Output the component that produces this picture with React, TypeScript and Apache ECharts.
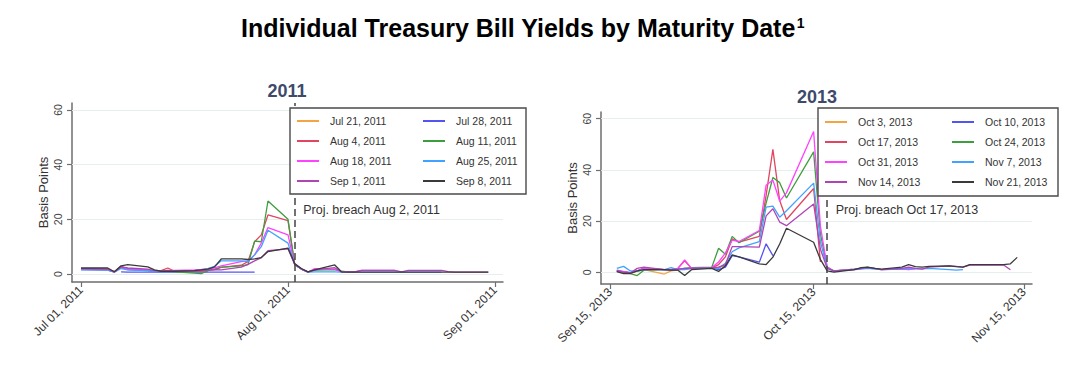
import React, { useEffect, useRef } from 'react';
import * as echarts from 'echarts';

const FONT = "'Liberation Sans', Arial, Helvetica, sans-serif";
const DAY = 86400000;
const MONTHS = ['Jan', 'Feb', 'Mar', 'Apr', 'May', 'Jun', 'Jul', 'Aug', 'Sep', 'Oct', 'Nov', 'Dec'];

// ---------- 2011 panel ----------
const dates2011 = [
  '2011-07-01', '2011-07-05', '2011-07-06', '2011-07-07', '2011-07-08',
  '2011-07-11', '2011-07-12', '2011-07-13', '2011-07-14', '2011-07-15',
  '2011-07-18', '2011-07-19', '2011-07-20', '2011-07-21', '2011-07-22',
  '2011-07-25', '2011-07-26', '2011-07-27', '2011-07-28', '2011-07-29',
  '2011-08-01', '2011-08-02', '2011-08-03', '2011-08-04', '2011-08-05',
  '2011-08-08', '2011-08-09', '2011-08-10', '2011-08-11', '2011-08-12',
  '2011-08-15', '2011-08-16', '2011-08-17', '2011-08-18', '2011-08-19',
  '2011-08-22', '2011-08-23', '2011-08-24', '2011-08-25', '2011-08-26',
  '2011-08-29', '2011-08-30', '2011-08-31',
];
const names2011 = ['Jul 21, 2011', 'Jul 28, 2011', 'Aug 4, 2011', 'Aug 11, 2011', 'Aug 18, 2011', 'Aug 25, 2011', 'Sep 1, 2011', 'Sep 8, 2011'];
const jul21_2011 = [1.8, 1.6, 0.7, 2.5, 1.8, 1.3, 1.0, 0.9, 1.3, 1.0, 0.9, 0.8, 0.9];
const jul28_2011 = [null, null, null, 0.8, 0.7, 0.7, 0.7, 0.7, 0.7, 0.7, 0.7, 0.7, 0.7, 0.7, 0.7, 0.7, 0.7, 0.7];
const aug4_2011 = [2.0, 1.7, 0.8, 2.8, 2.0, 1.5, 1.0, 1.2, 2.2, 1.0, 1.0, 1.1, 1.3, 1.6, 2.4, 3.2, 4.5, 11.8, 14.3, 21.6, 19.5, 3.5, 1.8];
const aug11_2011 = [1.8, 1.5, 0.8, 2.5, 1.6, 1.2, 1.0, 0.9, 0.9, 0.8, 0.3, 0.1, 1.2, 1.8, 2.5, 3.0, 3.4, 12.0, 11.8, 26.7, 20.0, 3.5, 1.8, 0.7, 1.4, 1.6, 1.0, 0.8];
const aug18_2011 = [1.6, 1.4, 0.7, 2.3, 1.8, 1.5, 1.0, 1.0, 1.3, 1.3, 1.5, 1.7, 2.0, 2.2, 3.0, 4.5, 4.8, 7.0, 11.3, 17.0, 14.3, 3.5, 1.8, 0.7, 2.0, 1.8, 0.8, 0.8, 0.8, 1.3, 1.3, 1.3, 1.3];
const aug25_2011 = [1.5, 1.4, 0.7, 2.0, 1.5, 1.2, 1.0, 0.8, 0.9, 1.0, 1.2, 1.5, 2.0, 2.8, 4.8, 4.8, 4.5, 7.0, 10.0, 16.0, 11.3, 3.5, 1.8, 0.7, 0.8, 0.8, 0.7, 0.7, 0.7, 0.7, 0.7, 0.7, 0.7, 0.7, 0.7, 0.7, 0.7, 0.7];
const sep1_2011 = [2.0, 1.8, 0.8, 2.6, 2.2, 1.8, 1.2, 1.0, 1.0, 1.0, 1.0, 1.2, 1.4, 1.6, 1.5, 2.5, 3.5, 4.8, 6.0, 8.5, 9.2, 3.5, 1.8, 0.8, 1.5, 2.3, 0.8, 0.8, 0.8, 1.3, 1.3, 1.3, 1.3, 0.8, 1.3, 1.3, 1.3, 1.3, 0.9, 0.7, 0.7, 0.7, 0.7];
const sep8_2011 = [2.2, 2.2, 0.8, 3.0, 3.4, 2.6, 1.5, 1.0, 1.0, 1.0, 1.2, 1.5, 1.8, 2.6, 5.5, 5.5, 5.3, 5.5, 6.0, 8.2, 9.5, 3.8, 2.0, 0.8, 1.5, 3.3, 0.8, 0.7, 0.7, 0.7, 0.7, 0.7, 0.7, 0.7, 0.7, 0.7, 0.7, 0.7, 0.7, 0.7, 0.7, 0.7, 0.7];
const values2011 = [jul21_2011, jul28_2011, aug4_2011, aug11_2011, aug18_2011, aug25_2011, sep1_2011, sep8_2011];
const xTicks2011 = ['2011-07-01', '2011-08-01', '2011-09-01'];
const breach2011 = '2011-08-02';
const breachLabel2011 = 'Proj. breach Aug 2, 2011';

// ---------- 2013 panel ----------
const dates2013 = [
  '2013-09-16', '2013-09-17', '2013-09-18', '2013-09-19', '2013-09-20',
  '2013-09-23', '2013-09-24', '2013-09-25', '2013-09-26', '2013-09-27', '2013-09-30',
  '2013-10-01', '2013-10-02', '2013-10-03', '2013-10-04', '2013-10-07',
  '2013-10-08', '2013-10-09', '2013-10-10', '2013-10-11', '2013-10-15',
  '2013-10-16', '2013-10-17', '2013-10-18', '2013-10-21', '2013-10-22',
  '2013-10-23', '2013-10-24', '2013-10-25', '2013-10-28', '2013-10-29',
  '2013-10-30', '2013-10-31', '2013-11-01', '2013-11-04', '2013-11-05',
  '2013-11-06', '2013-11-07', '2013-11-08', '2013-11-12', '2013-11-13', '2013-11-14',
];
const names2013 = ['Oct 3, 2013', 'Oct 10, 2013', 'Oct 17, 2013', 'Oct 24, 2013', 'Oct 31, 2013', 'Nov 7, 2013', 'Nov 14, 2013', 'Nov 21, 2013'];
const oct3_2013 = [0.5, 0.0, -0.3, 0.3, 1.0, -0.7, 0.5, 0.8, 1.5, 1.5, 1.8, 2.0, 2.5];
const oct10_2013 = [0.8, 0.2, -0.2, 0.5, 1.5, 1.0, 0.8, 1.0, 1.2, 1.5, 1.8, 1.0, 2.0, 6.5, 6.0, 3.9, 11.1, 6.5];
const oct17_2013 = [0.5, 0.0, -0.3, 0.5, 1.5, 1.0, 1.0, 1.5, 4.5, 1.5, 1.8, 3.0, 6.0, 13.0, 11.8, 14.0, 30.0, 48.0, 28.0, 20.6, 32.7, 4.0];
const oct24_2013 = [0.3, 0.0, -0.5, -1.3, 0.8, 1.0, 1.0, 1.2, 1.5, 1.8, 2.0, 9.4, 7.0, 14.0, 11.5, 16.0, 27.0, 37.0, 35.0, 29.0, 47.0, 15.0, 2.0, 0.5, 1.2, 1.5, 2.0];
const oct31_2013 = [0.5, 0.2, -0.2, 0.5, 1.5, 1.0, 1.0, 1.5, 4.8, 1.5, 1.8, 4.0, 7.5, 12.5, 12.0, 16.3, 34.0, 36.0, 27.8, 31.0, 55.0, 18.0, 2.0, 0.5, 1.2, 1.5, 1.8, 1.5, 1.0, 1.2, 1.0, 1.3];
const nov7_2013 = [1.5, 2.3, 0.5, 0.3, 1.0, 1.0, 1.8, 1.0, 1.0, 1.5, 1.8, 1.5, 3.5, 8.0, 9.5, 12.0, 25.4, 25.8, 21.5, 24.0, 34.8, 12.0, 1.5, 0.5, 1.0, 1.2, 1.5, 1.2, 1.0, 1.2, 1.5, 1.3, 1.3, 1.5, 1.0, 0.8, 1.0];
const nov14_2013 = [0.5, 0.0, -0.3, 1.5, 2.0, 1.0, 1.0, 1.2, 1.5, 1.5, 1.8, 2.0, 3.0, 10.0, 10.0, 9.8, 22.0, 24.8, 19.6, 18.2, 26.7, 9.0, 1.5, 0.5, 1.0, 1.5, 1.8, 1.5, 1.0, 1.5, 2.0, 1.5, 1.2, 2.0, 2.5, 2.3, 2.0, 2.8, 2.8, 2.8, 1.0];
const nov21_2013 = [0.2, -0.5, -0.5, 0.5, 1.0, 1.0, 0.8, 0.8, -1.3, 1.0, 1.5, 0.3, 2.5, 6.8, 6.0, 3.3, 3.0, 5.9, 11.0, 17.2, 11.7, 5.0, 0.5, 0.0, 1.0, 1.8, 2.0, 1.5, 1.2, 2.0, 3.0, 2.2, 2.0, 2.3, 2.5, 2.2, 2.0, 3.0, 3.0, 3.0, 3.3, 5.8];
const values2013 = [oct3_2013, oct10_2013, oct17_2013, oct24_2013, oct31_2013, nov7_2013, nov14_2013, nov21_2013];
const xTicks2013 = ['2013-09-15', '2013-10-15', '2013-11-15'];
const breach2013 = '2013-10-17';
const breachLabel2013 = 'Proj. breach Oct 17, 2013';

const yTicks = [0, 20, 40, 60];
const COLORS = ['#f5a443', '#5454f2', '#e0465f', '#3e9e3e', '#ff42ff', '#42a2ff', '#b044b4', '#3a3a3a'];

const ts = (s: string) => {
  const [y, m, d] = s.split('-').map(Number);
  return new Date(y, m - 1, d).getTime();
};
const fmtDate = (v: number) => {
  const d = new Date(Math.round(v));
  return `${MONTHS[d.getMonth()]} ${String(d.getDate()).padStart(2, '0')}, ${d.getFullYear()}`;
};

const axisColor = '#6e6e6e';

function makeAxes(gi: number, xTicks: string[], xMin: number, xMax: number, yMin: number, yMax: number) {
  const xAxis = {
    type: 'value', gridIndex: gi, min: xMin, max: xMax, scale: true,
    axisLine: { show: true, onZero: false, lineStyle: { color: axisColor, width: 1.5 } },
    axisTick: { show: true, length: 5, lineStyle: { color: axisColor, width: 1.2 }, customValues: xTicks.map(ts) },
    axisLabel: { rotate: 45, margin: 6, fontSize: 12, color: '#333', fontFamily: FONT, formatter: (v: number) => fmtDate(v), customValues: xTicks.map(ts), hideOverlap: false },
    splitLine: { show: false },
  };
  const yAxis = {
    type: 'value', gridIndex: gi, min: yMin, max: yMax,
    name: 'Basis Points', nameLocation: 'middle', nameGap: 22, nameRotate: 90,
    nameTextStyle: { fontSize: 13, color: '#333', fontFamily: FONT },
    axisLine: { show: true, onZero: false, lineStyle: { color: axisColor, width: 1.5 } },
    axisTick: { show: true, length: 5, lineStyle: { color: axisColor, width: 1.2 }, customValues: yTicks },
    axisLabel: { rotate: 90, margin: 9, fontSize: 10.5, color: '#444', fontFamily: FONT, customValues: yTicks },
    splitLine: { show: false },
  };
  return { xAxis, yAxis };
}

function makeSeries(gi: number, dates: string[], values: (number | null)[][], names: string[], breach: string, breachLabel: string, labelY: number) {
  const list: any[] = [];
  list.push({
    type: 'line', name: `grid${gi}`, xAxisIndex: gi, yAxisIndex: gi, data: [], z: 1, silent: true,
    markLine: {
      silent: true, symbol: 'none', z: 1, animation: false, label: { show: false },
      lineStyle: { color: '#e6eeee', type: 'solid', width: 1 },
      data: yTicks.map((v) => ({ yAxis: v })),
    },
  });
  values.forEach((vals, k) => {
    const data: any[] = [];
    vals.forEach((v, i) => { if (v !== null && v !== undefined) data.push([ts(dates[i]), v]); });
    list.push({
      type: 'line', name: names[k], xAxisIndex: gi, yAxisIndex: gi, data,
      symbol: 'none', showSymbol: false, z: 2,
      lineStyle: { color: COLORS[k], width: 1.3 }, itemStyle: { color: COLORS[k] },
      emphasis: { disabled: true },
    });
  });
  list.push({
    type: 'line', name: `breach${gi}`, xAxisIndex: gi, yAxisIndex: gi, data: [], z: 5, silent: true,
    markLine: {
      silent: true, symbol: 'none', z: 5, animation: false, label: { show: false },
      lineStyle: { color: '#444', type: [7, 4], width: 1.5 },
      data: [{ xAxis: ts(breach) }],
    },
    markPoint: {
      silent: true, animation: false,
      symbol: 'rect', symbolSize: [1, 1], itemStyle: { color: 'rgba(0,0,0,0)' },
      label: { show: true, position: 'right', distance: 8, formatter: breachLabel, fontSize: 12.5, color: '#333', fontFamily: FONT },
      data: [{ coord: [ts(breach), labelY] }],
    },
  });
  return list;
}

function legendCol(left: number, top: number, data: string[]) {
  return {
    orient: 'vertical', left, top, itemWidth: 22, itemHeight: 2, itemGap: 9, padding: 0,
    icon: 'rect', selectedMode: false, z: 60, data,
    textStyle: { fontSize: 10.5, color: '#333', fontFamily: FONT, padding: [0, 0, 0, 6] },
  };
}

export default function App() {
  const ref = useRef<HTMLDivElement>(null);
  useEffect(() => {
    if (!ref.current) return;
    const chart = echarts.init(ref.current, undefined, { renderer: 'svg' });
    const a1 = makeAxes(0, xTicks2011, ts('2011-07-01') - 1.35 * DAY, ts('2011-09-01') + 1.2 * DAY, -2.93, 62.56);
    const a2 = makeAxes(1, xTicks2013, ts('2013-09-15') - 1.33 * DAY, ts('2013-11-15') + 1.18 * DAY, -4.6, 62.6);
    const option: any = {
      animation: false,
      grid: [
        { left: 72, top: 103, width: 431, height: 179 },
        { left: 601, top: 112, width: 431, height: 172 },
      ],
      xAxis: [a1.xAxis, a2.xAxis],
      yAxis: [a1.yAxis, a2.yAxis],
      legend: [
        legendCol(297, 115.5, [names2011[0], names2011[2], names2011[4], names2011[6]]),
        legendCol(423, 115.5, [names2011[1], names2011[3], names2011[5], names2011[7]]),
        legendCol(825, 116.5, [names2013[0], names2013[2], names2013[4], names2013[6]]),
        legendCol(952, 116.5, [names2013[1], names2013[3], names2013[5], names2013[7]]),
      ],
      graphic: [
        {
          type: 'text', x: 241, y: 28, z: 100,
          style: {
            text: '{a|Individual Treasury Bill Yields by Maturity Date}{s|1}',
            verticalAlign: 'middle', align: 'left',
            rich: {
              a: { fontSize: 25, fontWeight: 'bold', fontFamily: FONT, fill: '#000' },
              s: { fontSize: 14, fontWeight: 'bold', fontFamily: FONT, fill: '#000', verticalAlign: 'top', padding: [0, 0, 0, 1] },
            },
          },
        },
        { type: 'text', x: 287, y: 91, z: 100, style: { text: '2011', fontSize: 18, fontWeight: 'bold', fontFamily: FONT, fill: '#3d4a6b', align: 'center', verticalAlign: 'middle' } },
        { type: 'text', x: 817, y: 97, z: 100, style: { text: '2013', fontSize: 18, fontWeight: 'bold', fontFamily: FONT, fill: '#3d4a6b', align: 'center', verticalAlign: 'middle' } },
        { type: 'rect', z: 50, shape: { x: 290, y: 108, width: 236, height: 86 }, style: { fill: '#fff', stroke: '#4a4a4a', lineWidth: 1.4 } },
        { type: 'rect', z: 50, shape: { x: 818, y: 108, width: 240, height: 88 }, style: { fill: '#fff', stroke: '#4a4a4a', lineWidth: 1.4 } },
      ],
      series: [
        ...makeSeries(0, dates2011, values2011, names2011, breach2011, breachLabel2011, 23.4),
        ...makeSeries(1, dates2013, values2013, names2013, breach2013, breachLabel2013, 24.5),
      ],
    };
    chart.setOption(option);
    return () => chart.dispose();
  }, []);
  return <div ref={ref} style={{ position: 'absolute', left: 0, top: 0, width: 1080, height: 372, background: '#fff' }} />;
}
